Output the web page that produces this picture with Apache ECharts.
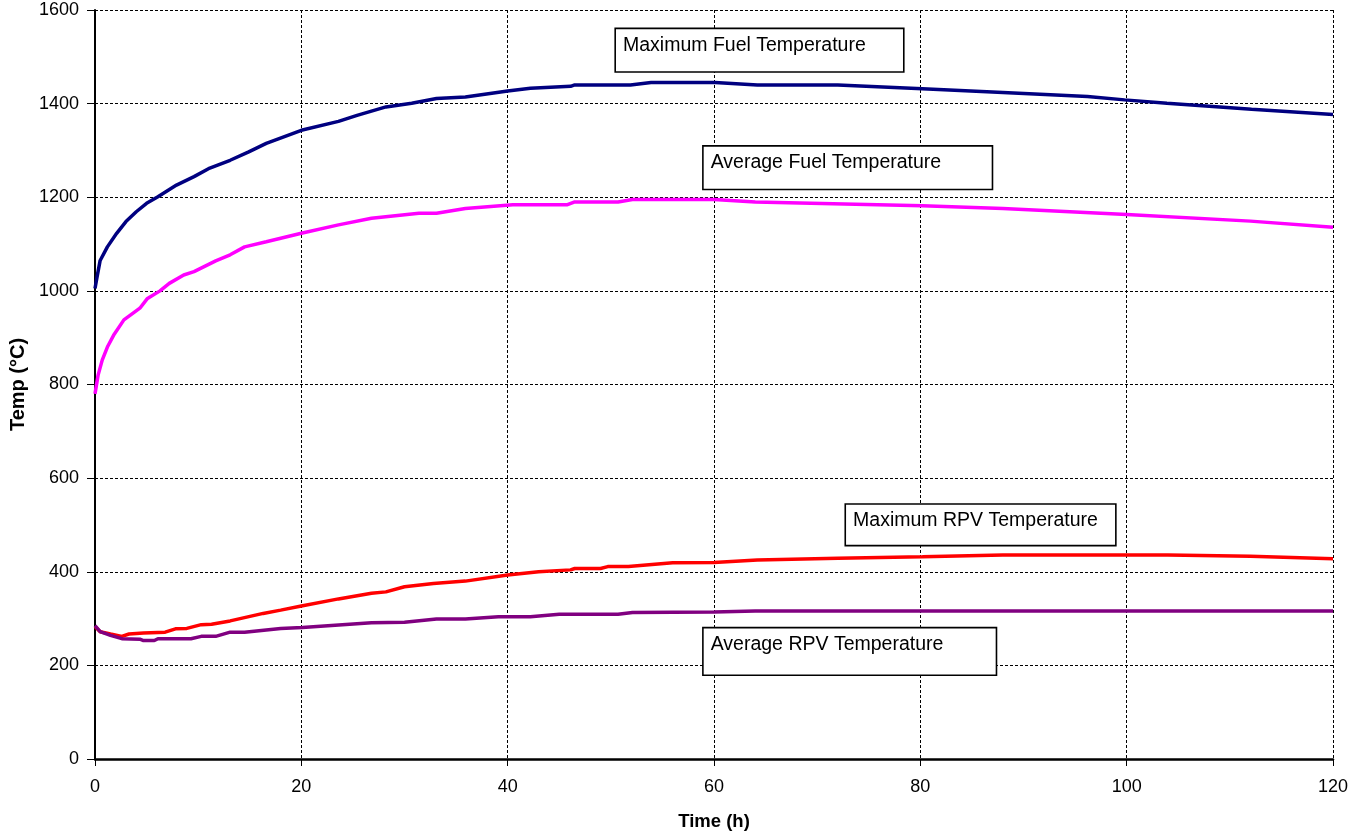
<!DOCTYPE html>
<html>
<head>
<meta charset="utf-8">
<title>Temperatures</title>
<script src="https://cdn.jsdelivr.net/npm/echarts@6/dist/echarts.min.js"></script>
<style>
  html, body { margin: 0; padding: 0; background: #fff; }
  #chart { width: 1364px; height: 836px; }
</style>
</head>
<body>
<div id="chart"></div>
<script>
// axis ticks
const xTicks = [0, 20, 40, 60, 80, 100, 120];
const yTicks = [0, 200, 400, 600, 800, 1000, 1200, 1400, 1600];

// Maximum Fuel Temperature
const maxFuelTime = [0, 0.2, 0.5, 1.2, 2.1, 3.0, 4.0, 5.0, 6.1, 7.9, 9.6, 11.0, 13.1, 14.9, 16.6, 20, 23.6, 25.4, 28.2, 30.7, 33.1, 35.9, 40, 42.2, 46.1, 46.5, 51.9, 53.9, 60.1, 64.2, 72, 80.2, 88, 96.2, 99.8, 103.9, 112.1, 120];
const maxFuelTemp = [1005, 1030, 1065, 1094, 1123, 1148, 1169, 1187, 1201, 1226, 1244, 1261, 1279, 1297, 1315, 1343, 1362, 1375, 1393, 1401, 1411, 1414, 1427, 1433, 1437, 1440, 1440, 1445, 1445, 1440, 1440, 1432, 1424, 1415, 1408, 1401, 1388, 1377];

// Average Fuel Temperature
const avgFuelTime = [0, 0.3, 0.7, 1.2, 1.8, 2.8, 4.35, 5.05, 6.3, 7.2, 8.6, 9.6, 11.7, 13.1, 14.5, 16.6, 20, 23.6, 26.8, 31.4, 33.1, 35.9, 40.5, 45.8, 46.5, 50.7, 52.1, 60, 64, 80.2, 88, 100, 112, 120];
const avgFuelTemp = [780, 820, 852, 880, 905, 938, 963, 983, 1000, 1016, 1034, 1041, 1064, 1077, 1094, 1105, 1123, 1141, 1155, 1166, 1166, 1176, 1184, 1184, 1190, 1190, 1195, 1195, 1190, 1182, 1176, 1163, 1149, 1136];

// Maximum RPV Temperature
const maxRpvTime = [0, 0.5, 1.5, 2.6, 3.3, 4.7, 6.8, 7.8, 8.9, 10.3, 11.3, 13.1, 16.3, 18, 20, 23.6, 26.8, 28.2, 30, 32.8, 35.9, 40, 43, 46.1, 46.5, 49, 49.7, 51.7, 56, 60, 64.2, 72, 80.2, 88, 104, 112, 120];
const maxRpvTemp = [283, 272, 267, 262, 267, 269, 271, 278, 279, 287, 288, 295, 311, 318, 327, 342, 354, 357, 368, 375, 380, 393, 400, 404, 407, 407, 411, 411, 419, 420, 425, 429, 432, 436, 436, 433, 428];

// Average RPV Temperature
const avgRpvTime = [0, 0.5, 1.5, 2.6, 4.35, 4.7, 5.75, 6.1, 9.3, 10.3, 11.7, 13.1, 14.5, 18, 20.1, 26.8, 30, 33.1, 35.9, 39.1, 42.2, 45, 50.7, 52.1, 60, 64, 120];
const avgRpvTemp = [285, 272, 264, 257, 256, 253, 253, 257, 257, 262, 262, 271, 271, 279, 281, 291, 292, 299, 299, 304, 304, 309, 309, 313, 314, 316, 316];

// annotation boxes: text, top-left corner in data units, size in px
const boxText = ['Maximum Fuel Temperature', 'Average Fuel Temperature', 'Maximum RPV Temperature', 'Average RPV Temperature'];
const boxCorner = [[50.5, 1559], [59.0, 1308], [72.8, 543], [59.0, 279]];
const boxSize = [[287, 42], [288, 42], [269, 40], [292, 46]];

const FONT = '"Liberation Sans", Arial, sans-serif';

function pairs(ts, vs) {
  return ts.map((t, i) => [t, vs[i]]);
}

// white box with black border, its top-left corner on the data point
function box(i) {
  const w = boxSize[i][0], h = boxSize[i][1];
  const padV = 5, padH = 7, bw = 1.6;
  return {
    silent: true,
    animation: false,
    data: [{
      coord: boxCorner[i],
      symbol: 'circle',
      symbolSize: 1,
      itemStyle: { color: 'rgba(0,0,0,0)' },
      label: {
        show: true,
        position: [0.5, 0.5],
        formatter: boxText[i],
        color: '#000',
        fontFamily: FONT,
        fontSize: 19.5,
        lineHeight: 22,
        align: 'left',
        verticalAlign: 'top',
        backgroundColor: '#fff',
        borderColor: '#000',
        borderWidth: bw,
        padding: [padV, padH, 0, padH],
        width: w - 2 * padH,
        height: h - padV
      }
    }]
  };
}

function line(name, ts, vs, color, i) {
  return {
    name: name,
    type: 'line',
    data: pairs(ts, vs),
    showSymbol: false,
    smooth: false,
    lineStyle: { color: color, width: 3.5 },
    itemStyle: { color: color },
    z: 3,
    markPoint: box(i)
  };
}

const chart = echarts.init(document.getElementById('chart'));
chart.setOption({
  animation: false,
  backgroundColor: '#fff',
  grid: { left: 95, right: 31, top: 10, bottom: 76 },
  xAxis: {
    type: 'value',
    min: xTicks[0],
    max: xTicks[xTicks.length - 1],
    interval: 20,
    name: 'Time (h)',
    nameLocation: 'middle',
    nameGap: 53,
    nameTextStyle: { fontFamily: FONT, fontSize: 18.5, fontWeight: 'bold', color: '#000' },
    axisLine: { show: true, lineStyle: { color: '#000', width: 2.5 } },
    axisTick: { show: true, length: 7, lineStyle: { color: '#000', width: 1 } },
    axisLabel: { margin: 19, fontFamily: FONT, fontSize: 18, color: '#000' },
    splitLine: { show: true, lineStyle: { color: '#000', width: 1, type: [3, 2] } }
  },
  yAxis: {
    type: 'value',
    min: yTicks[0],
    max: yTicks[yTicks.length - 1],
    interval: 200,
    name: 'Temp (°C)',
    nameLocation: 'middle',
    nameGap: 67,
    nameTextStyle: { fontFamily: FONT, fontSize: 20, fontWeight: 'bold', color: '#000' },
    axisLine: { show: true, lineStyle: { color: '#000', width: 2 } },
    axisTick: { show: true, length: 8, lineStyle: { color: '#000', width: 1 } },
    axisLabel: {
      margin: 16, fontFamily: FONT, fontSize: 18, color: '#000',
      formatter: v => String(v)
    },
    splitLine: { show: true, lineStyle: { color: '#000', width: 1, type: [3, 2] } }
  },
  series: [
    line('Maximum Fuel Temperature', maxFuelTime, maxFuelTemp, '#000080', 0),
    line('Average Fuel Temperature', avgFuelTime, avgFuelTemp, '#FF00FF', 1),
    line('Maximum RPV Temperature', maxRpvTime, maxRpvTemp, '#FF0000', 2),
    line('Average RPV Temperature', avgRpvTime, avgRpvTemp, '#800080', 3)
  ]
});
</script>
</body>
</html>
